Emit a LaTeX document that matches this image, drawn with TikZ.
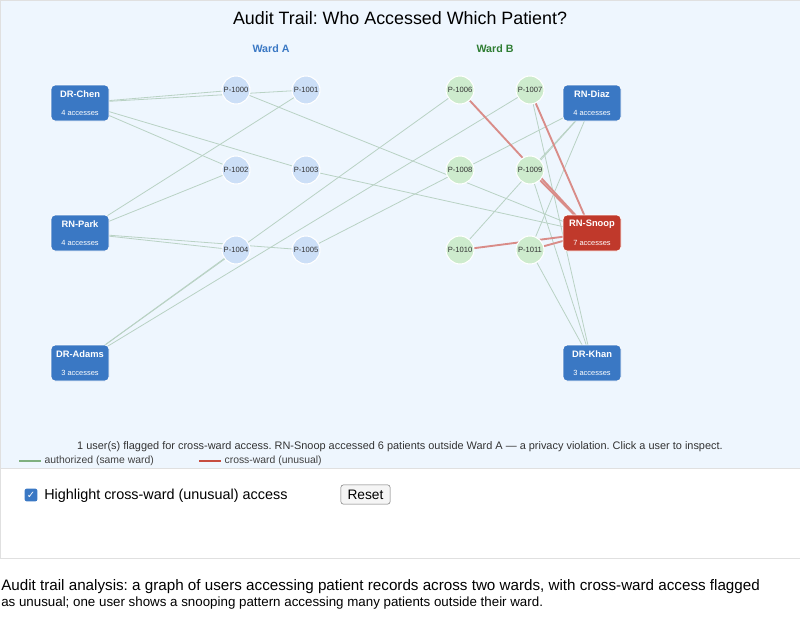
\documentclass[tikz,border=0pt]{standalone}
\usepackage{fontspec}
\setmainfont{Liberation Sans}
\newfontfamily\djv{DejaVu Sans}
\usetikzlibrary{positioning}
\pgfdeclarelayer{bg}\pgfdeclarelayer{edges}
\pgfsetlayers{bg,edges,main}
\definecolor{panel}{HTML}{EEF6FE}
\definecolor{userblue}{HTML}{3A78C4}
\definecolor{snoopred}{HTML}{C0392B}
\definecolor{pa}{HTML}{CCDFF7}
\definecolor{pb}{HTML}{CDEBCD}
\definecolor{okline}{HTML}{B9D2C4}
\definecolor{badline}{HTML}{D98C88}
\definecolor{wardA}{HTML}{3A78C4}
\definecolor{wardB}{HTML}{2E7D32}
\definecolor{leggreen}{HTML}{7FB07F}
\tikzset{
 x=0.75pt,y=-0.75pt,
 userbox/.style={draw=white,line width=0.6pt,fill=userblue,rounded corners=3pt,minimum width=43.5pt,minimum height=27pt,inner sep=0pt,align=center,text=white},
 snoopbox/.style={userbox,fill=snoopred},
 patA/.style={circle,draw=white,line width=0.8pt,fill=pa,minimum size=21pt,inner sep=0pt,font=\fontsize{5.7}{6}\selectfont,text=black!80},
 patB/.style={patA,fill=pb},
 ok/.style={draw=okline,line width=0.6pt},
 bad/.style={draw=badline,line width=1.4pt},
}
\newcommand{\ubox}[2]{{\fontsize{7}{8}\selectfont\bfseries #1}\\[2pt]{\fontsize{5.6}{6}\selectfont #2}}
\begin{document}
\frenchspacing
\begin{tikzpicture}
\useasboundingbox (0,0) rectangle (800,618);
\begin{pgfonlayer}{bg}
\fill[white] (0,0) rectangle (800,618);
\draw[fill=panel,draw=black!12] (0,0) rectangle (800,468);
\draw[fill=white,draw=black!12] (0,468) rectangle (800,558);
\end{pgfonlayer}
\node (title) at (400,18) {\fontsize{13.4}{15}\selectfont Audit Trail: Who Accessed Which Patient?};
\node[text=wardA] (wa) at (271,49) {\fontsize{8}{9}\selectfont\bfseries Ward A};
\node[text=wardB] (wb) at (495,49) {\fontsize{8}{9}\selectfont\bfseries Ward B};
% users
\node[userbox] (chen) at (80,103) {\ubox{DR-Chen}{4 accesses}};
\node[userbox] (park) at (80,233) {\ubox{RN-Park}{4 accesses}};
\node[userbox] (adams) at (80,363) {\ubox{DR-Adams}{3 accesses}};
\node[userbox] (diaz) at (592,103) {\ubox{RN-Diaz}{4 accesses}};
\node[snoopbox] (snoop) at (592,233) {\ubox{RN-Snoop}{7 accesses}};
\node[userbox] (khan) at (592,363) {\ubox{DR-Khan}{3 accesses}};
% patients
\node[patA] (p0) at (236,90) {P-1000};
\node[patA] (p1) at (306,90) {P-1001};
\node[patA] (p2) at (236,170) {P-1002};
\node[patA] (p3) at (306,170) {P-1003};
\node[patA] (p4) at (236,250) {P-1004};
\node[patA] (p5) at (306,250) {P-1005};
\node[patB] (p6) at (460,90) {P-1006};
\node[patB] (p7) at (530,90) {P-1007};
\node[patB] (p8) at (460,170) {P-1008};
\node[patB] (p9) at (530,170) {P-1009};
\node[patB] (p10) at (460,250) {P-1010};
\node[patB] (p11) at (530,250) {P-1011};
\begin{pgfonlayer}{edges}
\foreach \u/\p in {chen/p0,chen/p1,chen/p2,chen/p3,park/p1,park/p2,park/p4,park/p5,adams/p4,adams/p6,adams/p7,diaz/p5,diaz/p9,diaz/p10,diaz/p11,khan/p7,khan/p9,khan/p11,snoop/p0,snoop/p3}
 \draw[ok] (\u.center) -- (\p.center);
\foreach \p in {p6,p7,p9,p10,p11}
 \draw[bad] (snoop.center) -- (\p.center);
\end{pgfonlayer}
% footer
\node (msg) at (400,447) {\fontsize{8.2}{9}\selectfont\color{black!80}1 user(s) flagged for cross-ward access. RN-Snoop accessed 6 patients outside Ward A --- a privacy violation. Click a user to inspect.};
\coordinate (l1a) at (19,461); \coordinate (l1b) at (41,461);
\draw[draw=leggreen,line width=1.6pt] (l1a) -- (l1b);
\node[anchor=west,inner sep=1pt] (lt1) at (43,461) {\fontsize{7.8}{9}\selectfont\color{black!75}authorized (same ward)};
\coordinate (l2a) at (199,461); \coordinate (l2b) at (221,461);
\draw[draw=snoopred!90,line width=1.6pt] (l2a) -- (l2b);
\node[anchor=west,inner sep=1pt] (lt2) at (223,461) {\fontsize{7.8}{9}\selectfont\color{black!75}cross-ward (unusual)};
% controls
\node[fill=userblue,rounded corners=1.5pt,minimum size=9.5pt,inner sep=0pt,text=white] (cb) at (31,495) {\djv\fontsize{7.5}{7.5}\selectfont\bfseries ✓};
\node[anchor=west,inner sep=0pt] (cbt) at (44,496) {\fontsize{10.8}{12}\selectfont Highlight cross-ward (unusual) access};
\node[draw=black!55,fill=black!4,rounded corners=2pt,minimum width=37pt,minimum height=14.5pt,inner sep=0pt] (reset) at (365.5,494.5) {\fontsize{10.3}{12}\selectfont Reset};
% caption
\node[anchor=north west,inner sep=0pt,align=left] (cap) at (1,579) {\fontsize{11.4}{13.6}\selectfont Audit trail analysis: a graph of users accessing patient records across two wards, with cross-ward access flagged\\ as unusual; one user shows a snooping pattern accessing many patients outside their ward.};
\end{tikzpicture}
\end{document}
